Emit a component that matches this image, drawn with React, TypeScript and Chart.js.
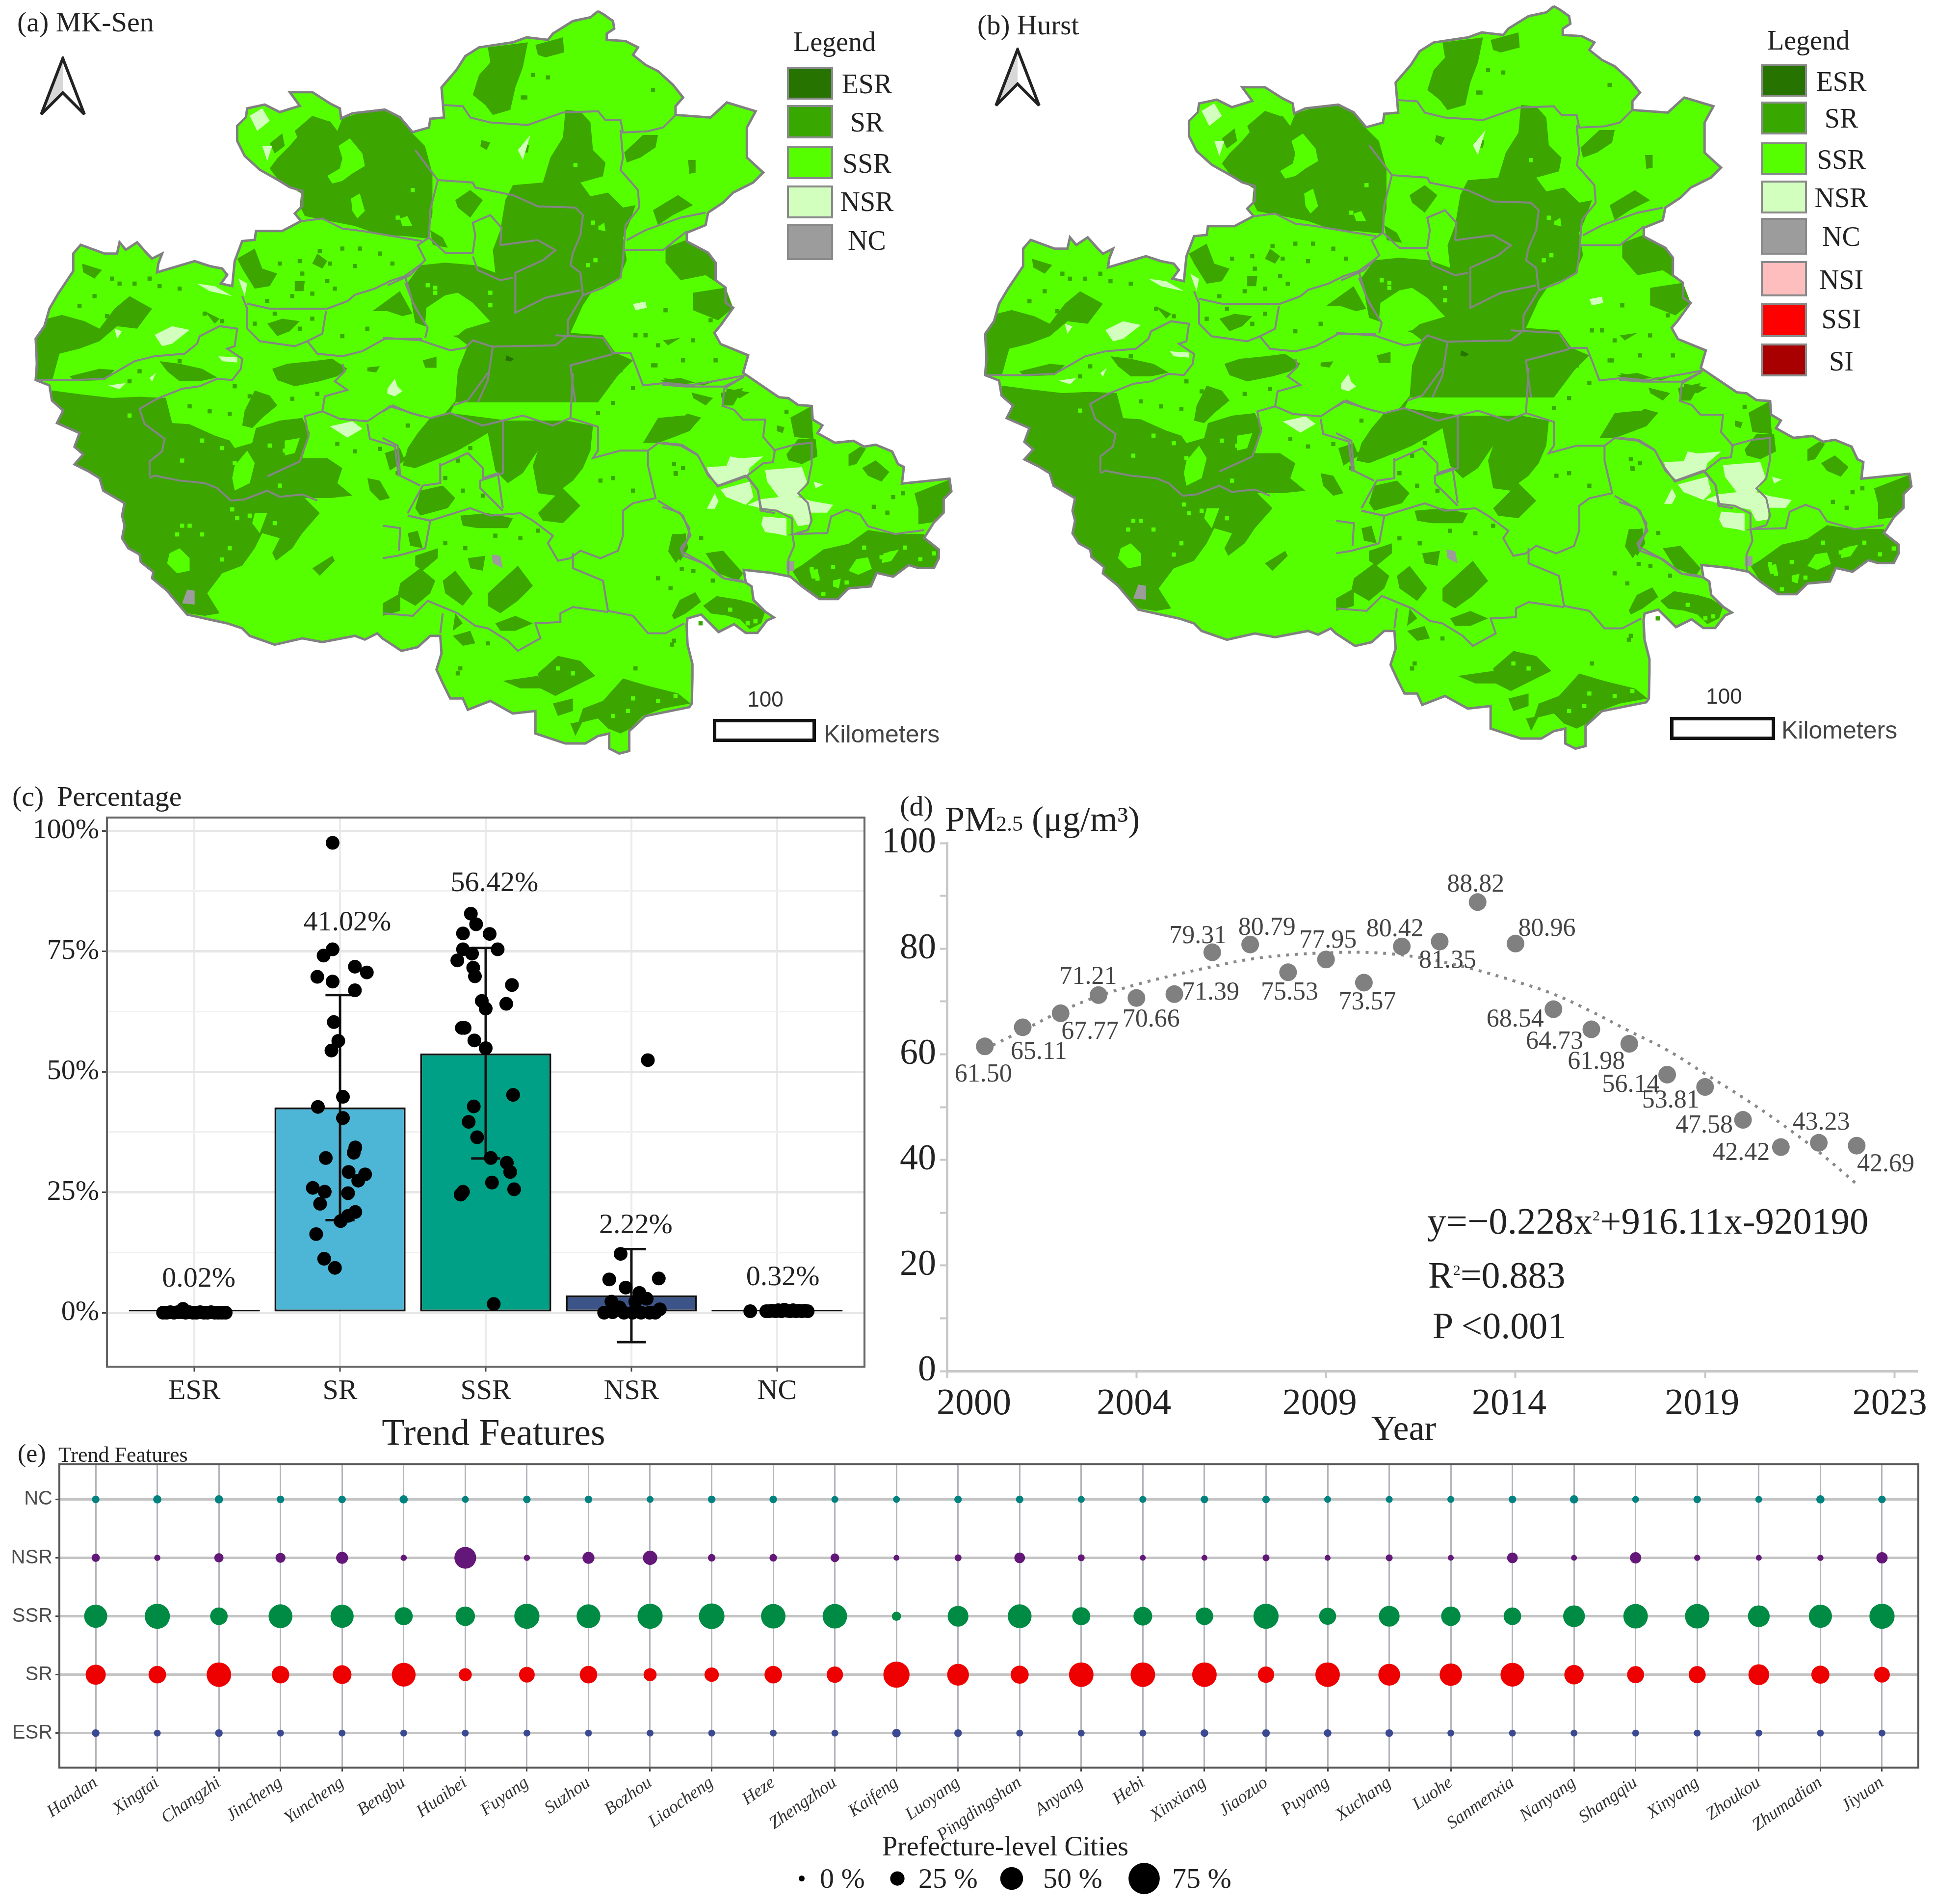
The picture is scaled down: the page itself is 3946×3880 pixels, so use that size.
import { useEffect, useRef } from 'react';
import { Chart, registerables } from 'chart.js';

Chart.register(...registerables);
Chart.defaults.font.family = '"Liberation Serif"';
Chart.defaults.color = '#222';

type Pts = number[][];
const sheet = (x0: number, y0: number, k: number) => (pts: Pts) => pts.map(([x, y]) => [x0 + x * k, y0 + y * k]);
const nw = sheet(60, 180, 0.5102);
const ne = sheet(780, 20, 0.5102);
const sw = sheet(60, 760, 0.5102);
const se = sheet(780, 760, 0.5102);
const ea = sheet(1350, 760, 0.3954);

const mapOutline = [
  ...ne([[860,5],[885,20],[920,45],[925,75],[895,95],[895,120],[970,125],[1020,150],[1000,180],[1050,220],[1100,245],[1160,300],[1200,350],[1170,385],[1170,420],[1310,430],[1375,370],[1490,405],[1455,470],[1455,590],[1520,650],[1480,690],[1400,730],[1360,770],[1300,810],[1290,860],[1215,890],[1215,925],[1300,970],[1330,1010],[1330,1080],[1370,1110],[1370,1170],[1400,1190],[1350,1260],[1325,1290],[1350,1335],[1460,1380],[1440,1450]]),
  ...ea([[600,125],[650,130],[700,165],[770,170],[775,240],[825,270],[800,310],[890,360],[985,350],[1040,380],[1100,370],[1185,405],[1215,470],[1245,485],[1235,570],[1480,545],[1490,610],[1450,650],[1450,720],[1400,770],[1350,850],[1425,910],[1425,955],[1400,1005],[1320,1005],[1270,990],[1190,1050],[1105,1030],[1075,1100],[960,1110],[905,1165],[810,1165],[720,1100],[660,1050],[560,1030],[420,1015],[430,1080],[460,1100],[470,1170],[530,1230],[575,1260],[540,1275],[490,1340],[430,1340],[370,1295],[290,1335],[200,1245],[130,1265],[125,1300],[130,1400],[155,1500],[155,1568]]),
  ...se([[1235,1320],[1225,1335],[1050,1370],[985,1430],[985,1510],[945,1520],[905,1500],[905,1440],[860,1450],[810,1480],[730,1480],[610,1440],[610,1350],[520,1360],[430,1310],[340,1345],[320,1300],[270,1300],[240,1240],[215,1185],[235,1120],[230,1050],[190,1050],[140,1095],[75,1110]]),
  ...sw([[1410,1060],[1390,1040],[1340,1065],[1300,1050],[1170,1075],[1090,1060],[980,1085],[880,1050],[850,1020],[790,1000],[720,985],[630,965],[600,930],[550,870],[490,820],[495,795],[445,755],[440,725],[395,700],[370,660],[380,610],[370,570],[380,520],[295,470],[280,420],[240,395],[180,365],[215,325],[180,295],[200,240],[110,200],[135,150],[90,110],[80,50]]),
  ...nw([[25,1165],[30,1100],[25,1000],[60,950],[80,880],[115,820],[175,730],[175,660],[205,625],[300,660],[350,660],[360,615],[385,645],[430,615],[470,660],[490,680],[530,660],[515,700],[510,735],[660,690],[720,710],[770,720],[790,745],[765,780],[810,790],[820,690],[850,610],[900,605],[905,570],[1010,570],[1085,530],[1060,500],[1090,470],[1090,410],[1040,395],[1000,370],[920,325],[860,270],[830,210],[830,150],[865,115],[870,80],[940,65],[1000,95],[1080,70],[1040,15],[1130,15],[1200,60],[1240,80],[1245,120],[1290,100],[1420,85],[1480,115],[1530,175]]),
  ...ne([[185,470],[190,435],[245,430],[235,310],[295,240],[330,185],[385,150],[520,130],[575,110],[660,120],[680,95],[760,45],[830,30]]),
];

const srPatches = [
  ...[
    [[1250,120],[1330,95],[1420,90],[1480,120],[1530,180],[1580,230],[1610,340],[1610,500],[1590,600],[1500,590],[1400,585],[1300,550],[1200,530],[1100,510],[1080,470],[1085,420],[1040,390],[990,360],[960,320],[990,280],[1040,230],[1090,170],[1130,140],[1200,130],[1230,170]],
    [[1060,170],[1130,110],[1190,130],[1150,190],[1080,220]],
    [[960,220],[1010,180],[1020,230],[980,260]],
    [[25,1010],[70,920],[130,905],[220,930],[280,960],[340,880],[400,830],[490,880],[430,960],[350,950],[280,1010],[200,1040],[120,1060],[90,1170],[25,1165]],
    [[210,700],[290,725],[260,760],[215,735]],
    [[520,1090],[600,1100],[690,1120],[750,1155],[680,1170],[600,1170],[550,1130]],
    [[160,1150],[280,1120],[340,1125],[300,1165],[180,1170]],
    [[830,680],[900,640],[930,720],[990,740],[960,790],[900,800],[850,720]],
    [[1060,770],[1100,770],[1095,810],[1060,810]],
    [[1150,660],[1190,690],[1170,720],[1130,700]],
    [[970,1120],[1030,1100],[1130,1090],[1210,1080],[1270,1120],[1230,1150],[1160,1170],[1060,1190],[990,1165]],
    [[1370,890],[1480,810],[1530,900],[1490,910],[1430,890]],
    [[1350,1115],[1400,1110],[1385,1135],[1350,1130]],
    [[950,940],[1010,920],[1080,930],[1040,970],[990,990]],
    [[700,890],[760,920],[740,940]],
  ].map(nw),
  ...[
    [[90,70],[200,85],[330,100],[440,95],[545,100],[570,200],[640,205],[740,250],[800,270],[820,300],[890,280],[905,220],[1000,190],[1090,180],[1120,240],[1090,340],[1190,340],[1250,380],[1230,440],[1290,490],[1200,500],[1100,500],[1160,560],[1090,640],[1050,700],[985,750],[970,720],[1000,660],[930,640],[900,700],[850,770],[770,800],[710,880],[760,960],[700,970],[630,960],[600,930],[550,870],[490,820],[495,795],[445,755],[440,725],[395,700],[370,660],[380,610],[370,570],[380,520],[295,470],[280,420],[240,395],[180,365],[215,325],[180,295],[200,240],[110,200],[135,150],[90,110]],
    [[860,150],[900,70],[960,90],[990,130],[930,180],[890,220],[850,210]],
    [[1130,780],[1210,730],[1220,750],[1160,810]],
    [[1350,420],[1400,430],[1440,500],[1400,510],[1360,470]],
    [[1420,320],[1480,300],[1500,350],[1440,390]],
  ].map(sw),
  ...[
    [[420,150],[580,130],[560,230],[530,310],[510,400],[440,420],[410,380],[360,340],[385,260],[430,210]],
    [[610,140],[720,110],[725,170],[650,190],[620,180]],
    [[730,400],[790,405],[830,450],[840,560],[890,610],[880,665],[790,690],[830,745],[900,730],[960,790],[1010,780],[990,840],[960,910],[975,1000],[940,1080],[840,1120],[800,1180],[750,1290],[880,1300],[930,1370],[1000,1400],[940,1460],[860,1568],[290,1568],[300,1440],[340,1340],[300,1310],[130,1250],[100,1090],[150,1020],[250,1010],[370,1020],[450,1050],[440,960],[470,880],[490,760],[520,700],[640,690],[670,590],[720,510]],
    [[1130,950],[1210,920],[1300,970],[1330,1010],[1335,1090],[1290,1060],[1190,1080],[1130,1010]],
    [[1240,1130],[1370,1110],[1400,1190],[1340,1240],[1240,1200]],
    [[1080,800],[1180,740],[1240,780],[1160,820],[1100,860]],
    [[965,570],[1040,500],[1100,500],[1090,550],[1030,590],[975,610]],
    [[395,520],[430,530],[415,560],[390,545]],
    [[550,545],[585,540],[580,570],[555,570]],
    [[1220,600],[1250,600],[1250,650],[1225,655]],
    [[160,1400],[215,1385],[215,1430],[170,1430]],
    [[290,760],[350,720],[400,760],[350,830],[300,790]],
    [[190,880],[240,910],[260,950],[200,940]],
    [[1120,1320],[1190,1310],[1140,1340]],
    [[1110,1480],[1190,1470],[1250,1490],[1150,1500]],
  ].map(ne),
  ...[
    [[300,100],[270,160],[500,190],[730,190],[840,210],[830,310],[800,380],[760,430],[720,460],[790,530],[720,600],[640,590],[620,560],[690,490],[620,480],[600,370],[620,310],[560,400],[500,440],[450,390],[420,240],[370,270],[300,310],[230,340],[130,380],[80,370],[100,300],[140,240],[190,180],[250,160]],
    [[150,470],[240,450],[290,500],[260,540],[150,570],[130,540]],
    [[310,570],[420,560],[520,580],[500,620],[380,620],[320,610]],
    [[130,730],[220,700],[220,740],[160,790],[130,770]],
    [[70,840],[150,780],[210,830],[190,880],[130,930],[60,890]],
    [[240,830],[290,790],[360,880],[320,930],[250,880]],
    [[420,880],[540,770],[600,850],[540,910],[470,960],[420,930]],
    [[450,1000],[530,970],[600,1000],[530,1030],[470,1030]],
    [[280,1050],[350,1030],[370,1080],[320,1090]],
    [[290,960],[320,1000],[280,1030]],
    [[0,920],[70,880],[70,950],[0,970]],
    [[620,1200],[700,1130],[790,1150],[850,1210],[770,1250],[690,1290],[630,1260]],
    [[480,1230],[620,1210],[640,1260],[550,1260]],
    [[800,1340],[880,1310],[960,1220],[1060,1250],[1180,1280],[1230,1320],[1120,1340],[1040,1370],[990,1420],[950,1440],[900,1420],[860,1380],[780,1400]],
    [[680,1320],[760,1300],[760,1350],[700,1370]],
    [[750,1400],[800,1390],[770,1450]],
    [[1040,280],[1100,180],[1200,170],[1260,180],[1180,250],[1100,280]],
    [[1160,650],[1210,640],[1220,700],[1190,750],[1150,710]],
    [[1290,720],[1360,710],[1440,800],[1420,830],[1340,800]],
    [[1240,80],[1320,100],[1290,130],[1240,100]],
    [[1120,20],[1180,30],[1140,40]],
    [[1240,40],[1340,30],[1280,50]],
    [[1350,80],[1440,60],[1400,130],[1360,130]],
    [[340,740],[410,730],[400,790],[350,780]],
    [[100,640],[140,630],[160,700],[110,690]],
  ].map(se),
  ...[
    [[660,230],[770,170],[775,300],[780,340],[680,330]],
    [[590,270],[630,280],[620,310],[590,300]],
    [[640,420],[700,340],[790,340],[800,430],[720,470],[650,450]],
    [[960,420],[1020,380],[1050,390],[1000,470],[960,480]],
    [[1030,490],[1100,450],[1170,510],[1130,560],[1060,530]],
    [[1300,620],[1480,550],[1490,610],[1450,650],[1450,720],[1390,770],[1320,780],[1320,700]],
    [[670,1020],[720,990],[830,910],[960,880],[1060,810],[1200,830],[1350,830],[1360,860],[1430,920],[1425,955],[1400,1005],[1320,1005],[1270,990],[1190,1050],[1105,1030],[1075,1100],[960,1110],[905,1165],[810,1165],[720,1100]],
    [[1150,960],[1270,880],[1400,900],[1400,990],[1290,970]],
    [[210,1200],[280,1150],[400,1170],[470,1190],[530,1230],[510,1290],[450,1320],[400,1270],[330,1250],[250,1240]],
    [[50,1250],[90,1170],[170,1130],[200,1180],[120,1240],[60,1270]],
    [[0,230],[70,250],[130,210],[200,230],[140,300],[60,330],[0,340]],
    [[150,100],[230,130],[210,150],[160,130]],
    [[330,80],[450,100],[400,130],[330,110]],
    [[50,830],[110,830],[110,920],[70,980],[30,920]],
  ].map(ea),
];
const ssrHoles = [
  ...[
    [[1190,350],[1240,320],[1250,280],[1235,230],[1280,200],[1330,260],[1340,310],[1290,340],[1250,370],[1210,380]],
    [[1285,440],[1320,420],[1340,490],[1310,520],[1290,490]],
    [[1480,520],[1510,510],[1530,550],[1490,550]],
  ].map(nw),
  ...[
    [[560,720],[600,700],[640,740],[640,790],[590,800],[550,760]],
    [[820,370],[870,310],[900,360],[880,440],[820,470],[810,420]],
    [[900,560],[950,560],[920,640],[890,600]],
    [[1020,270],[1080,260],[1060,320],[1020,330]],
  ].map(sw),
  ...[
    [[175,1190],[250,1140],[300,1130],[360,1170],[430,1245],[330,1275],[300,1300],[190,1310],[170,1250]],
    [[870,860],[885,850],[890,885],[870,880]],
  ].map(ne),
  ...[[[1000,960],[1060,950],[1080,1010],[1010,1040],[960,1020]], [[760,1020],[800,1010],[810,1060],[770,1060]], [[1140,930],[1220,910],[1180,970],[1130,980]], [[880,1070],[920,1060],[910,1110],[880,1100]]].map(ea),
];
const nsrPatches = [
  ...[
    [[500,985],[570,950],[640,965],[570,1020],[530,1030]],
    [[670,780],[740,790],[810,830],[720,810]],
    [[755,1070],[830,1075],[830,1095],[770,1090]],
    [[880,110],[930,80],[960,130],[910,170]],
    [[930,230],[970,230],[950,290]],
    [[835,760],[870,780],[860,830]],
    [[1430,1200],[1460,1160],[1470,1190],[1490,1210],[1460,1230],[1430,1220]],
    [[1200,1350],[1290,1330],[1330,1360],[1270,1395]],
    [[340,960],[370,970],[350,1000]],
  ].map(nw),
  ...[[[315,50],[385,40],[360,65]], [[480,20],[505,0],[490,35]]].map(sw),
  ...[[[1000,1175],[1050,1165],[1055,1190],[1010,1200]], [[540,560],[590,500],[560,600]]].map(ne),
  ...[
    [[230,485],[330,480],[350,430],[400,440],[520,430],[450,490],[440,530],[290,580],[240,530]],
    [[300,600],[450,560],[470,640],[430,680],[330,640]],
    [[230,700],[270,620],[290,660],[270,700]],
    [[530,500],[720,485],[745,560],[700,640],[770,660],[880,680],[850,720],[760,720],[760,780],[700,790],[670,730],[520,700],[440,680],[510,650],[600,640],[540,560]],
    [[520,740],[640,750],[640,840],[600,830],[530,820],[510,780]],
    [[780,560],[830,575],[790,595]],
  ].map(ea),
];
const ncPatches = [
  ...sw([]).length ? [] : [sw([[610,920],[630,865],[660,870],[660,925]])],
  se([[435,725],[470,730],[480,780],[440,760]]),
  ea([[640,970],[680,970],[680,1020],[640,1020]]),
];
const esrPatches = [ne([[495,1380],[525,1395],[510,1405],[490,1400]])];

const cityBorders = [
  ...[
    [[1090,530],[1170,520],[1250,560],[1330,570],[1420,585],[1568,610]],
    [[870,860],[960,880],[1110,880],[1190,880],[1270,850],[1300,825],[1380,800],[1440,770],[1500,750],[1568,700]],
    [[850,830],[870,880],[870,960],[920,1010],[1060,1030],[1110,1010],[1170,980],[1185,890]],
    [[1110,1010],[1150,1060],[1250,1070],[1330,1050],[1420,1000],[1568,1000]],
    [[30,1165],[180,1165],[300,1160],[420,1090],[500,1070],[620,1060],[670,1020],[680,990],[760,950],[830,960],[820,1030],[790,1040],[850,1080],[845,1120],[810,1165],[750,1160],[680,1190],[610,1200],[510,1240],[440,1280],[460,1340],[540,1400],[530,1450],[480,1490],[480,1550]],
    [[1250,1100],[1260,1130],[1220,1170],[1270,1205],[1180,1230],[1170,1290],[1100,1310],[1115,1390],[1080,1490],[950,1550]],
    [[1170,1290],[1240,1320],[1350,1330],[1440,1270],[1568,1310]],
    [[1350,1340],[1360,1400],[1460,1430],[1475,1550]],
    [[1500,750],[1530,850],[1568,920]],
  ].map(nw),
  ...[
    [[480,420],[500,410],[600,430],[700,440],[750,460],[805,510]],
    [[805,510],[860,505],[950,470],[1000,495],[1090,485],[1150,510]],
  ].map(sw),
  ...[
    [[240,380],[320,385],[350,430],[430,450],[580,460],[720,410],[860,405],[890,440],[950,440],[960,490],[1060,485],[1120,470],[1170,420]],
    [[950,480],[960,590],[950,640],[1020,720],[1025,790],[970,860],[960,1000],[950,1070],[880,1110],[800,1140]],
    [[130,560],[220,680],[360,690],[370,710],[520,740],[620,785],[770,790],[800,820],[790,900],[760,970],[750,1020],[790,1050],[800,1140],[740,1240],[740,1300],[690,1340],[440,1345],[420,1340],[360,1320],[330,1350],[270,1360],[150,1320],[0,1310]],
    [[220,680],[190,800],[185,910],[140,940],[170,1000],[110,1060],[20,1100]],
    [[185,910],[250,970],[360,970],[370,900],[360,850],[430,820],[475,870],[470,940]],
    [[360,985],[380,1040],[470,1080],[520,1070]],
    [[470,940],[620,920],[690,960],[640,1000],[530,1050],[530,1210],[650,1150],[790,1120]],
    [[90,1090],[130,1190],[180,1270],[170,1310]],
    [[960,960],[1040,960],[1120,960],[1170,920],[1215,885]],
    [[975,920],[1050,880],[1190,830],[1290,810]],
    [[690,1300],[880,1310],[920,1370],[990,1370],[1010,1420],[1040,1500],[1130,1490],[1230,1500],[1450,1460]],
    [[920,1375],[750,1420],[760,1500],[770,1568]],
    [[440,1345],[420,1480],[380,1568]],
  ].map(ne),
  ...[
    [[0,155],[40,130],[110,160],[190,180],[270,160],[400,210],[480,190],[560,170],[680,210],[750,180],[860,215],[860,310],[840,340],[950,310],[1060,310],[1060,370],[1090,500],[1000,520],[960,550],[960,650],[940,710],[870,740],[790,710],[750,740],[700,750],[660,680],[680,650],[600,590],[550,560],[430,570],[350,540],[190,590],[100,570]],
    [[480,190],[480,400],[390,430],[390,460],[480,550]],
    [[280,130],[340,110],[420,0]],
    [[760,0],[750,180]],
    [[1060,310],[1100,280],[1190,290],[1260,330],[1300,410],[1340,450],[1450,410],[1500,470],[1510,550],[1568,560]],
    [[1100,510],[1200,570],[1230,650],[1190,700],[1200,730],[1280,760],[1360,820],[1440,830]],
    [[760,720],[760,780],[880,830],[900,950],[1000,970],[1060,1040],[1130,1040],[1205,1000]],
    [[900,955],[760,935],[710,960],[710,995],[610,1000],[630,1060],[540,1110],[500,1070],[420,1020],[370,1010],[300,960],[180,910],[120,970],[0,960]],
    [[240,960],[230,1040]],
    [[100,570],[190,590],[170,700],[60,730],[0,740]],
    [[0,610],[70,620],[65,710]],
    [[230,360],[230,440],[160,450],[100,560]],
    [[230,370],[340,320],[400,380],[400,420],[460,400],[480,540]],
    [[0,260],[60,290],[70,410],[150,450]],
  ].map(se),
  ...[
    [[0,360],[100,370],[180,420],[230,510],[285,585],[430,535],[520,465],[570,460],[580,400],[520,330],[530,240],[415,240],[370,190],[310,170],[320,80],[420,20]],
    [[440,535],[490,600],[510,700],[590,710],[670,750],[670,830],[680,890],[650,960],[650,1040]],
    [[570,400],[680,370],[770,360],[770,470],[750,570],[700,620],[750,670],[770,760],[750,810],[680,830],[850,825],[870,740],[950,705],[1020,730],[1060,790],[1200,830],[1350,810]],
    [[0,60],[120,70],[320,70],[420,20]],
    [[100,920],[230,990],[320,1060],[430,1080]],
    [[0,690],[90,720],[140,800],[130,860],[100,920]],
  ].map(ea),
];

// SR pixels scattered over SSR land, and SSR pixels scattered over SR land
const darkSpecks = [
  ...nw([[1250,640],[1160,650],[1300,710],[1190,770],[1090,740],[1000,700],[1050,830],[1130,820],[1220,800],[1320,640],[1400,660],[1450,700],[980,900],[1030,950],[1080,960],[1130,920],[1250,990],[1350,960],[900,940],[770,930],[700,900],[600,800],[520,790],[480,760],[330,760],[420,780],[260,830],[200,870],[600,1090],[440,1130],[400,1170],[820,1190],[880,1230],[930,1300],[800,1300],[720,1290],[1010,1350],[640,1270],[1050,1240],[1150,1220],[1230,1420],[1300,1450],[1400,1440],[1500,1480],[980,330],[1200,700],[1080,690],[950,850],[310,910],[360,780]]),
  ...se([[100,210],[180,230],[60,400],[350,300],[300,350],[250,420],[320,470],[400,490],[450,650],[330,700],[250,680],[550,660],[620,630],[870,430],[920,420],[1000,470],[1170,400],[1200,380],[1270,1000],[1100,820],[1150,860],[1010,1180],[420,1080],[300,1200],[310,1180],[860,160],[920,120],[1000,60]]),
  ...ne([[1100,1340],[1050,1300],[1200,1400],[1080,1420],[950,1440],[1240,1320],[1330,1400],[1130,1200],[1310,1240],[1010,1300],[1080,320],[560,350],[600,260],[660,270],[1090,1420],[1170,1040],[570,350]]),
  ...ea([[60,470],[70,520],[200,850],[100,1010],[160,1020],[260,1070],[320,980],[640,200],[1090,690],[1240,620],[1190,640],[1160,720],[50,1400],[60,1380]]),
];
const brightSpecks = [
  ...sw([[400,170],[610,350],[690,270],[770,300],[610,610],[640,610],[590,645],[690,645],[770,745],[820,360],[960,290],[1020,310],[1000,450],[850,440],[810,545],[830,580],[880,570],[980,600],[800,700]]),
  ...ne([[120,720],[60,830],[90,850],[180,1100],[210,1110],[320,1220],[430,1130],[430,1180],[840,850],[870,870],[850,1000],[820,1020],[770,620],[210,1130]]),
  ...ea([[770,1010],[800,1060],[880,1000],[1130,950],[1180,930],[1250,900],[1330,960],[950,1080],[830,1140],[480,1280],[440,1290],[350,1220],[1400,930],[1040,900]]),
  ...se([[1170,1290],[1100,1310],[1000,1300],[980,1350],[920,1370],[700,1180],[760,1200]]),
];

const legendA = [['ESR', '#267300'], ['SR', '#38A800'], ['SSR', '#55FF00'], ['NSR', '#D3FFBE'], ['NC', '#9C9C9C']];
const legendB = [...legendA, ['NSI', '#FFBEBE'], ['SSI', '#FF0000'], ['SI', '#A80000']];

// ---- panel (c) ----
const trendClasses = ['ESR', 'SR', 'SSR', 'NSR', 'NC'];
const barMeans = [0.02, 42.6, 53.8, 3.6, 0.3];
const barColors = ['#E64B35', '#4DB6D6', '#00A087', '#3C5488', '#F39B7F'];
const barErrLow = [0, 19.2, 32, -6.1, 0];
const barErrHigh = [0, 65.9, 75.7, 13.2, 0];
const barLabels = ['0.02%', '41.02%', '56.42%', '2.22%', '0.32%'];
const barLabelX = [0.03, 1.05, 2.06, 3.03, 4.04];
const barLabelY = [6.9, 80.9, 89, 18.1, 7.3];
const esrDots = [[-0.215,0],[-0.19,0],[-0.165,0.1],[-0.14,0],[-0.115,0.1],[-0.09,0.1],[-0.078,0.8],[-0.06,0],[-0.035,0.1],[-0.01,0],[0.015,0],[0.04,0.1],[0.065,0],[0.09,0],[0.115,0.1],[0.14,0],[0.165,0],[0.19,0],[0.215,0]];
const srDots = [[0.949,97.5],[0.949,75.4],[0.887,74.1],[1.102,71.8],[1.184,70.6],[0.844,69.7],[0.949,68.7],[1.102,66.9],[0.957,60.3],[0.988,56.4],[0.941,54.4],[1.02,44.8],[0.848,42.7],[1.02,40.4],[1.105,34.3],[1.094,33.2],[0.902,32.1],[1.059,29.2],[1.172,28.7],[1.125,27.4],[0.813,25.9],[0.895,25.1],[1.055,24.8],[0.863,22.6],[1.105,20.9],[1.055,20.1],[1.004,19.0],[0.836,16.3],[0.891,11.2],[0.965,9.3]];
const ssrDots = [[1.898,82.8],[1.934,80.6],[1.844,78.7],[2.027,78.6],[2.082,75.4],[1.844,75.4],[1.906,74.5],[1.805,73.1],[1.914,71.6],[1.926,69.8],[2.18,68.0],[1.973,64.7],[2.141,64.1],[2.0,63.1],[1.836,59.1],[1.855,59.1],[1.922,56.5],[2.0,54.9],[2.188,45.2],[1.918,42.8],[1.883,39.6],[1.941,36.4],[2.035,32.1],[2.145,31.1],[2.168,29.2],[2.043,27.0],[2.195,25.6],[1.844,25.1],[1.828,24.5],[2.055,1.8]];
const nsrDots = [[3.113,52.4],[2.926,12.2],[2.848,6.9],[3.188,7.1],[2.961,5.2],[3.055,4.1],[3.105,2.9],[2.863,2.3],[3.027,2.3],[3.195,0.7],[2.813,0],[2.871,0.1],[2.949,0],[3.008,0],[3.066,0],[3.125,0],[3.164,0],[2.918,1.1]];
const ncDots = [[3.816,0.3],[3.926,0.3],[3.945,0.3],[3.965,0.4],[3.99,0.3],[4.008,0.5],[4.03,0.3],[4.05,0.6],[4.07,0.4],[4.09,0.3],[4.11,0.5],[4.13,0.3],[4.15,0.4],[4.17,0.3],[4.19,0.4],[4.21,0.3]];

// ---- panel (d) ----
const pmPositions = [1,2,3,4,5,6,7,8,9,10,11,12,13,14,15,16,17,18,19,20,21,22,23,24];
const pmValues = [61.5,65.11,67.77,71.21,70.66,71.39,79.31,80.79,75.53,77.95,73.57,80.42,81.35,88.82,80.96,68.54,64.73,61.98,56.14,53.81,47.58,42.42,43.23,42.69];
const pmTrend = [61.0,64.5,68.1,71.0,73.2,75.0,76.6,78.0,78.8,79.2,79.3,78.8,77.6,75.9,73.8,71.4,68.1,64.4,60.8,56.3,51.8,46.9,41.5,35.4];
const pmLabelDx = [-3,33,60,-21,30,74,-29,34,3,4,7,-14,16,-4,64,-78,-75,-67,-74,-70,-79,-81,5,59];
const pmLabelDy = [58,51,39,-36,45,-2,-32,-33,42,-38,41,-34,40,-35,-30,22,26,37,21,28,12,13,-41,39];
const yearTickPositions = [0,5,10,15,20,25];
const yearTickLabels = ['2000','2004','2009','2014','2019','2023'];
const yearTickDx = [55,-5,-13,-13,-6,-10];

// ---- panel (e) ----
const cities = ['Handan','Xingtai','Changzhi','Jincheng','Yuncheng','Bengbu','Huaibei','Fuyang','Suzhou','Bozhou','Liaocheng','Heze','Zhengzhou','Kaifeng','Luoyang','Pingdingshan','Anyang','Hebi','Xinxiang','Jiaozuo','Puyang','Xuchang','Luohe','Sanmenxia','Nanyang','Shangqiu','Xinyang','Zhoukou','Zhumadian','Jiyuan'];
const esrShare = [5,3,5,3,3,3,3,3,3,3,3,3,3,8,5,3,3,3,5,5,5,5,3,3,3,3,3,3,3,3];
const srShare = [42,34.5,55,34.5,38,53,21,29,34.5,21,25,34.5,31,60,47,36,55,55,55,31,55,47,49,53,40,33,33,44,36,29];
const ssrShare = [51,57,34.5,53,51,36,40,57,53,57,58.4,55,55,10,44,53,36,38,34.5,57,33,44,40,34.5,47,55,55,47,51,57];
const nsrShare = [7,1,10,12,18,1,47,1,18,25,5,5,8.5,0,3,14,3,0,0,3,0,3,0,14,0,16,1,0,1,16];
const ncShare = [5,7,7,5,5,7,3,5,5,3,5,5,3,3,5,5,3,3,5,5,3,3,3,5,7,3,5,3,7,5];
const sizeLegendValues = [0,25,50,75];
const sizeLegendSlots = [134,329,562,832];
const shareRadius = (p: number) => (12 + 0.69 * p) / 2;

const serif = '"Liberation Serif"';
const sans = '"Liberation Sans"';

// keeps the plot area where the figure has it: fixed axis band, no label padding
const fixBand = (size: number) => (s: any) => {
  if (s.isHorizontal()) s.height = size;
  else s.width = size;
  s.paddingLeft = s.paddingRight = s.paddingTop = s.paddingBottom = 0;
};

const frame = (color: string, width: number) => ({
  id: 'frame',
  afterDraw(chart: any) {
    const { left, top, right, bottom } = chart.chartArea;
    chart.ctx.save();
    chart.ctx.strokeStyle = color;
    chart.ctx.lineWidth = width;
    chart.ctx.strokeRect(left, top, right - left, bottom - top);
    chart.ctx.restore();
  },
});

const base = { responsive: false, animation: false, devicePixelRatio: 1, events: [] };
const noPlugins = { legend: { display: false }, tooltip: { enabled: false } };
const toXY = (pts: Pts) => pts.map(([x, y]) => ({ x, y }));

function mapConfig(xRange: number[], yRange: number[]) {
  const patch = (pts: Pts, color: string) => ({
    data: toXY(pts),
    showLine: true,
    fill: 'shape',
    backgroundColor: color,
    borderWidth: 0,
    pointRadius: 0,
  });
  const specks = (pts: Pts, color: string) => ({
    data: toXY(pts),
    backgroundColor: color,
    pointStyle: 'rect',
    pointRadius: 6,
    pointBorderWidth: 0,
    order: 3,
  });
  const datasets = [
    ...cityBorders.map((pts) => ({ data: toXY(pts), showLine: true, borderColor: '#858585', borderWidth: 4, pointRadius: 0, order: 0 })),
    { data: toXY([...mapOutline, mapOutline[0]]), showLine: true, borderColor: '#808080', borderWidth: 5, pointRadius: 0, order: 0 },
    ...esrPatches.map((p) => ({ ...patch(p, '#267300'), order: 1 })),
    ...ncPatches.map((p) => ({ ...patch(p, '#9C9C9C'), order: 1 })),
    ...nsrPatches.map((p) => ({ ...patch(p, '#D3FFBE'), order: 2 })),
    specks(darkSpecks, '#38A800'),
    specks(brightSpecks, '#55FF00'),
    ...ssrHoles.map((p) => ({ ...patch(p, '#55FF00'), order: 5 })),
    ...srPatches.map((p) => ({ ...patch(p, '#3CA500'), order: 6 })),
    { ...patch(mapOutline, '#55FF00'), order: 7 },
  ];
  return {
    type: 'scatter',
    data: { datasets },
    options: {
      ...base,
      layout: { autoPadding: false },
      plugins: noPlugins,
      scales: {
        x: { type: 'linear', display: false, min: xRange[0], max: xRange[1] },
        y: { type: 'linear', display: false, reverse: true, min: yRange[0], max: yRange[1] },
      },
    },
  };
}

const barConfig = () => {
  const dots = [...esrDots, ...srDots, ...ssrDots, ...nsrDots, ...ncDots];
  const errLine = (pts: Pts) => ({ type: 'line', data: toXY(pts), borderColor: '#111', borderWidth: 5, pointRadius: 0, order: 1 });
  const errs = [1, 2, 3].flatMap((i) => [
    errLine([[i, barErrLow[i]], [i, barErrHigh[i]]]),
    errLine([[i - 0.1, barErrLow[i]], [i + 0.1, barErrLow[i]]]),
    errLine([[i - 0.1, barErrHigh[i]], [i + 0.1, barErrHigh[i]]]),
  ]);
  return {
    type: 'bar',
    data: {
      datasets: [
        { type: 'scatter', data: toXY(dots), backgroundColor: '#000', pointRadius: 14, pointBorderWidth: 0, order: 0 },
        ...errs,
        {
          data: barMeans.map((y, x) => ({ x, y })),
          backgroundColor: barColors,
          borderColor: '#111',
          borderWidth: 4,
          borderSkipped: false,
          minBarLength: 5,
          categoryPercentage: 1,
          barPercentage: 0.9,
          order: 2,
        },
      ],
    },
    options: {
      ...base,
      layout: { autoPadding: false, padding: { top: 26, right: 38 } },
      plugins: noPlugins,
      scales: {
        x: {
          type: 'linear',
          offset: false,
          min: -0.6,
          max: 4.6,
          afterBuildTicks: (s: any) => { s.ticks = trendClasses.map((_, value) => ({ value })); },
          afterFit: fixBand(85),
          ticks: { callback: (v: number) => trendClasses[v], font: { size: 58 }, color: '#222', padding: 6, autoSkip: false, maxRotation: 0 },
          grid: { offset: false, color: '#ebebeb', lineWidth: 4, tickLength: 10, tickColor: '#444', tickWidth: 3 },
          border: { display: false },
        },
        y: {
          type: 'linear',
          min: -11.2,
          max: 102.75,
          afterBuildTicks: (s: any) => { s.ticks = [0,12.5,25,37.5,50,62.5,75,87.5,100].map((value) => ({ value })); },
          afterFit: fixBand(218),
          ticks: { callback: (v: number) => (v % 25 === 0 ? `${v}%` : ''), font: { size: 58 }, color: '#222', padding: 6 },
          grid: {
            color: (c: any) => (c.tick.value % 25 === 0 ? '#e6e6e6' : '#f0f0f0'),
            lineWidth: (c: any) => (c.tick.value % 25 === 0 ? 5 : 3),
            tickLength: 10,
            tickColor: (c: any) => (c.tick.value % 25 === 0 ? '#444' : 'transparent'),
            tickWidth: 3,
          },
          border: { display: false },
        },
      },
    },
    plugins: [
      frame('#666', 4),
      {
        id: 'barLabels',
        afterDraw(chart: any) {
          const { ctx, scales } = chart;
          ctx.save();
          ctx.font = `58px ${serif}`;
          ctx.fillStyle = '#222';
          ctx.textAlign = 'center';
          ctx.textBaseline = 'middle';
          barLabels.forEach((t, i) => ctx.fillText(t, scales.x.getPixelForValue(barLabelX[i]), scales.y.getPixelForValue(barLabelY[i])));
          ctx.restore();
        },
      },
    ],
  };
};

const pmConfig = () => ({
  type: 'scatter',
  data: {
    datasets: [
      { data: pmPositions.map((x, i) => ({ x, y: pmValues[i] })), backgroundColor: '#808080', pointRadius: 18, pointBorderWidth: 0, order: 0 },
      {
        data: pmPositions.map((x, i) => ({ x, y: pmTrend[i] })),
        showLine: true,
        tension: 0.4,
        borderColor: '#8a8a8a',
        borderWidth: 6,
        borderDash: [6, 12],
        pointRadius: 0,
        order: 1,
      },
    ],
  },
  options: {
    ...base,
    layout: { autoPadding: false, padding: { top: 78, right: 38 } },
    plugins: noPlugins,
    scales: {
      x: {
        type: 'linear',
        min: 0,
        max: 25.6,
        afterBuildTicks: (s: any) => { s.ticks = yearTickPositions.map((value) => ({ value })); },
        afterFit: fixBand(146),
        ticks: { callback: () => '', font: { size: 10 } },
        grid: { drawOnChartArea: false, tickLength: 14, tickColor: '#c8c8c8', tickWidth: 4 },
        border: { display: true, color: '#c8c8c8', width: 5 },
      },
      y: {
        type: 'linear',
        min: 0,
        max: 100,
        afterBuildTicks: (s: any) => { s.ticks = [0,10,20,30,40,50,60,70,80,90,100].map((value) => ({ value })); },
        afterFit: fixBand(130),
        ticks: { callback: (v: number) => (v % 20 === 0 ? `${v}` : ''), font: { size: 74 }, color: '#222', padding: 8 },
        grid: { drawOnChartArea: false, tickLength: 14, tickColor: '#c8c8c8', tickWidth: 4 },
        border: { display: true, color: '#c8c8c8', width: 5 },
      },
    },
  },
  plugins: [
    {
      id: 'pmLabels',
      afterDraw(chart: any) {
        const { ctx, scales, chartArea } = chart;
        const points = chart.getDatasetMeta(0).data;
        ctx.save();
        ctx.textAlign = 'center';
        ctx.textBaseline = 'middle';
        ctx.font = `52px ${serif}`;
        ctx.fillStyle = '#444';
        pmValues.forEach((v, i) => ctx.fillText(v.toFixed(2), points[i].x + pmLabelDx[i], points[i].y + pmLabelDy[i]));
        ctx.font = `76px ${serif}`;
        ctx.fillStyle = '#222';
        yearTickLabels.forEach((t, i) => ctx.fillText(t, scales.x.getPixelForValue(yearTickPositions[i]) + yearTickDx[i], chartArea.bottom + 68));
        ctx.restore();
      },
    },
  ],
});

const dotRow = (values: number[], row: number, color: string) => ({
  data: values.map((_, x) => ({ x, y: row })),
  backgroundColor: color,
  pointBorderWidth: 0,
  pointRadius: (c: any) => shareRadius(values[c.dataIndex]),
});

const cityConfig = () => ({
  type: 'scatter',
  data: {
    datasets: [
      dotRow(esrShare, 0, '#3B4992'),
      dotRow(srShare, 1, '#EE0000'),
      dotRow(ssrShare, 2, '#008B45'),
      dotRow(nsrShare, 3, '#631879'),
      dotRow(ncShare, 4, '#008280'),
    ],
  },
  options: {
    ...base,
    layout: { autoPadding: false, padding: { top: 14, right: 36 } },
    plugins: noPlugins,
    scales: {
      x: {
        type: 'linear',
        min: -0.59,
        max: 29.59,
        afterBuildTicks: (s: any) => { s.ticks = cities.map((_, value) => ({ value })); },
        afterFit: fixBand(198),
        ticks: { callback: (v: number) => cities[v], font: { size: 36, style: 'italic' }, color: '#333', autoSkip: false, minRotation: 35, maxRotation: 35, padding: 2 },
        grid: { color: '#b4b4bc', lineWidth: 3, tickLength: 8, tickColor: '#444', tickWidth: 3 },
        border: { display: false },
      },
      y: {
        type: 'linear',
        min: -0.59,
        max: 4.6,
        afterBuildTicks: (s: any) => { s.ticks = trendClasses.map((_, value) => ({ value })); },
        afterFit: fixBand(121),
        ticks: { callback: (v: number) => trendClasses[v], font: { family: sans, size: 40 }, color: '#4d4d4d', padding: 6 },
        grid: { color: '#c4c4c4', lineWidth: 5, tickLength: 8, tickColor: '#444', tickWidth: 3 },
        border: { display: false },
      },
    },
  },
  plugins: [frame('#555', 4)],
});

const sizeLegendConfig = () => ({
  type: 'scatter',
  data: {
    datasets: [
      {
        data: sizeLegendValues.map((_, i) => ({ x: sizeLegendSlots[i], y: 0 })),
        backgroundColor: '#000',
        pointBorderWidth: 0,
        clip: false,
        pointRadius: (c: any) => shareRadius(sizeLegendValues[c.dataIndex]),
      },
    ],
  },
  options: {
    ...base,
    layout: { autoPadding: false },
    plugins: noPlugins,
    scales: {
      x: { type: 'linear', display: false, min: 0, max: 1000 },
      y: { type: 'linear', display: false, min: -1, max: 1 },
    },
  },
});

function ChartCanvas({ left, top, width, height, config }: any) {
  const ref = useRef<HTMLCanvasElement>(null);
  useEffect(() => {
    if (!ref.current) return;
    const chart = new Chart(ref.current, config());
    return () => chart.destroy();
  }, [config]);
  return <canvas ref={ref} width={width} height={height} style={{ position: 'absolute', left, top, width, height }} />;
}

function Label({ x, y, size, left, family, color, children }: any) {
  return (
    <div
      style={{
        position: 'absolute',
        left: x,
        top: y,
        transform: left ? 'translateY(-50%)' : 'translate(-50%,-50%)',
        font: `${size}px/1 ${family || serif}`,
        color: color || '#222',
        whiteSpace: 'nowrap',
      }}
    >
      {children}
    </div>
  );
}

function MapLegend({ items, swatchX, ys, heights, textX, titleX, titleY, textYs }: any) {
  return (
    <>
      <Label x={titleX} y={titleY} size={56}>Legend</Label>
      {items.map(([name, color]: string[], i: number) => (
        <div key={name}>
          <div style={{ position: 'absolute', left: swatchX, top: ys[i], width: 94, height: heights[i], boxSizing: 'border-box', background: color, border: '4px solid #8a8a8a' }} />
          <Label x={textX} y={textYs[i]} size={56}>{name}</Label>
        </div>
      ))}
    </>
  );
}

function NorthArrow({ x, y }: any) {
  return (
    <svg style={{ position: 'absolute', left: x, top: y }} width={100} height={125} viewBox="0 0 100 125">
      <polygon points="50,4 50,74 6,118" fill="#d8d8d8" />
      <polygon points="50,4 6,118 50,74 94,118" fill="none" stroke="#222" strokeWidth={6} />
    </svg>
  );
}

function ScaleBar({ boxX, boxY, boxW, boxH, numX, numY, kmX, kmY }: any) {
  return (
    <>
      <Label x={numX} y={numY} size={44} family={sans} color="#333">100</Label>
      <div style={{ position: 'absolute', left: boxX, top: boxY, width: boxW, height: boxH, boxSizing: 'border-box', background: '#fff', border: '7px solid #111' }} />
      <Label x={kmX} y={kmY} size={50} left family={sans} color="#444">Kilometers</Label>
    </>
  );
}

const mapAConfig = () => mapConfig([0, 1973], [0, 1560]);
const mapBConfig = () => mapConfig([38.2, 1988.7], [10, 1570]);

export default function App() {
  return (
    <div style={{ position: 'absolute', left: 0, top: 0, width: 3946, height: 3880, background: '#fff', overflow: 'hidden' }}>
      <ChartCanvas left={0} top={0} width={1973} height={1560} config={mapAConfig} />
      <ChartCanvas left={1973} top={0} width={1973} height={1560} config={mapBConfig} />
      <ChartCanvas left={0} top={1640} width={1800} height={1230} config={barConfig} />
      <ChartCanvas left={1800} top={1640} width={2146} height={1300} config={pmConfig} />
      <ChartCanvas left={0} top={2970} width={3946} height={830} config={cityConfig} />
      <ChartCanvas left={1500} top={3778} width={1000} height={100} config={sizeLegendConfig} />

      <Label x={35} y={45} size={58} left>(a) MK-Sen</Label>
      <NorthArrow x={78} y={115} />
      <MapLegend items={legendA} swatchX={1604} ys={[137,214,298,378,456]} heights={[66,68,67,67,74]} textX={1767} titleX={1701} titleY={85} textYs={[171,249,333,411,490]} />
      <ScaleBar boxX={1453} boxY={1465} boxW={210} boxH={47} numX={1560} numY={1425} kmX={1679} kmY={1496} />

      <Label x={1992} y={50} size={57} left>(b) Hurst</Label>
      <NorthArrow x={2024} y={97} />
      <MapLegend items={legendB} swatchX={3589} ys={[131,207,290,368,444,532,617,700]} heights={[66,67,67,67,75,72,70,67]} textX={3753} titleX={3686} titleY={82} textYs={[166,241,325,403,482,570,650,736]} />
      <ScaleBar boxX={3404} boxY={1461} boxW={214} boxH={47} numX={3514} numY={1419} kmX={3631} kmY={1488} />

      <Label x={25} y={1623} size={58} left>(c)</Label>
      <Label x={116} y={1623} size={58} left>Percentage</Label>
      <Label x={1006} y={2918} size={76}>Trend Features</Label>

      <Label x={1868} y={1643} size={58}>(d)</Label>
      <Label x={1926} y={1669} size={72} left>
        PM<span style={{ fontSize: 44 }}>2.5</span> (μg/m³)
      </Label>
      <Label x={2861} y={2910} size={72}>Year</Label>
      <Label x={2909} y={2488} size={77} left>
        y=−0.228x<sup style={{ fontSize: 30, lineHeight: 0 }}>2</sup>+916.11x-920190
      </Label>
      <Label x={2911} y={2598} size={76} left>
        R<sup style={{ fontSize: 30, lineHeight: 0 }}>2</sup>=0.883
      </Label>
      <Label x={2920} y={2701} size={76} left>P &lt;0.001</Label>

      <Label x={36} y={2962} size={52} left>(e)</Label>
      <Label x={119} y={2965} size={44} left>Trend Features</Label>
      <Label x={2049} y={3762} size={56}>Prefecture-level Cities</Label>
      <Label x={1671} y={3828} size={58} left>0 %</Label>
      <Label x={1872} y={3828} size={58} left>25 %</Label>
      <Label x={2126} y={3828} size={58} left>50 %</Label>
      <Label x={2389} y={3828} size={58} left>75 %</Label>
    </div>
  );
}
